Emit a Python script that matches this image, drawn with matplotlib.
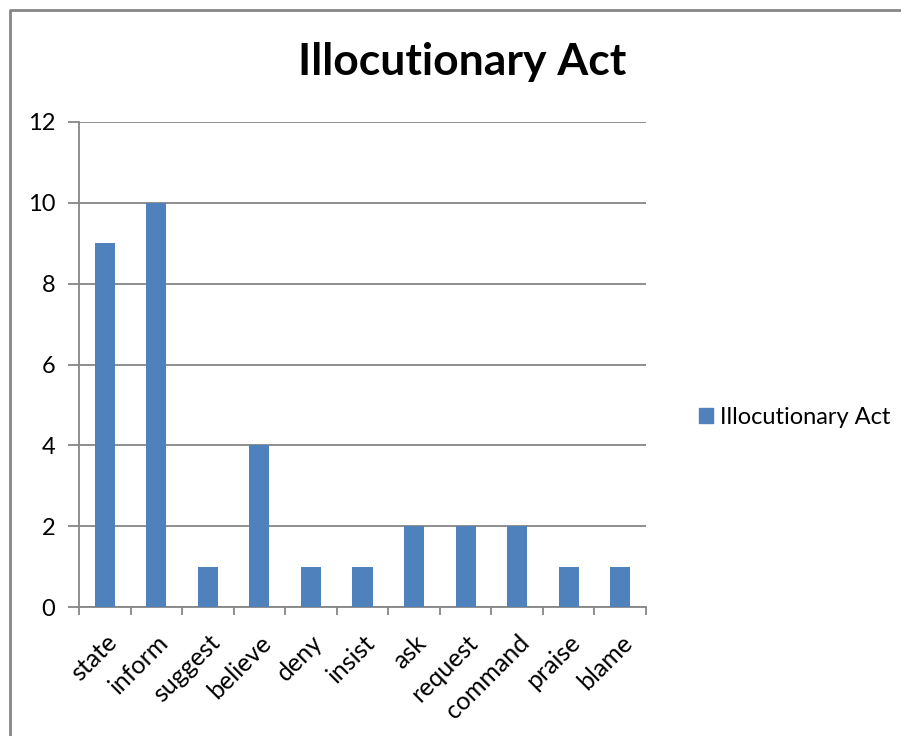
import matplotlib.pyplot as plt
import numpy as np
from matplotlib.lines import Line2D

categories = ['state', 'inform', 'suggest', 'believe', 'deny', 'insist',
              'ask', 'request', 'command', 'praise', 'blame']
counts = [9, 10, 1, 4, 1, 1, 2, 2, 2, 1, 1]
series_name = 'Illocutionary Act'
y_ticks = [0, 2, 4, 6, 8, 10, 12]

plt.rcParams['font.family'] = ['Lato', 'DejaVu Sans']

W, H = 901, 736
fig = plt.figure(figsize=(W / 100, H / 100), dpi=100)
fig.patch.set_facecolor('white')

# outer chart border (only top and left visible in the crop)
grey = '#868686'
fig.add_artist(Line2D([10 / W, 10 / W, 1], [0, 1 - 10 / H, 1 - 10 / H],
                      transform=fig.transFigure, color=grey, lw=2))

ax = fig.add_axes([79 / W, (H - 607) / H, 567 / W, 485 / H])
x = np.arange(len(categories))
ax.bar(x, counts, width=0.39, color='#4F81BD', zorder=3)

ax.set_xlim(-0.5, len(categories) - 0.5)
ax.set_ylim(0, 12)
ax.set_yticks(y_ticks)
ax.yaxis.grid(True, color=grey, lw=1.3)
ax.set_axisbelow(True)

for s in ['top', 'right']:
    ax.spines[s].set_visible(False)
for s in ['left', 'bottom']:
    ax.spines[s].set_color(grey)
    ax.spines[s].set_linewidth(1.3)

ax.tick_params(axis='y', length=8, color=grey, width=1.3, labelsize=17, pad=9)
ax.set_xticks(x)
ax.set_xticklabels(categories, rotation=45, ha='right', rotation_mode='anchor',
                   fontsize=18)
ax.tick_params(axis='x', which='major', length=0, pad=17)
ax.set_xticks(np.arange(len(categories) + 1) - 0.5, minor=True)
ax.tick_params(axis='x', which='minor', length=6, color=grey, width=1.3)

fig.text(462 / W, 1 - 62 / H, series_name, ha='center', va='center',
         fontsize=32, fontweight='bold')

ax.legend([plt.Rectangle((0, 0), 1, 1, color='#4F81BD')], [series_name],
          loc='center left', bbox_to_anchor=(678 / W, 1 - 417 / H),
          bbox_transform=fig.transFigure, frameon=False, fontsize=17,
          handlelength=0.6, handleheight=0.6, handletextpad=0.3)

fig.savefig('out.png', dpi=100)
